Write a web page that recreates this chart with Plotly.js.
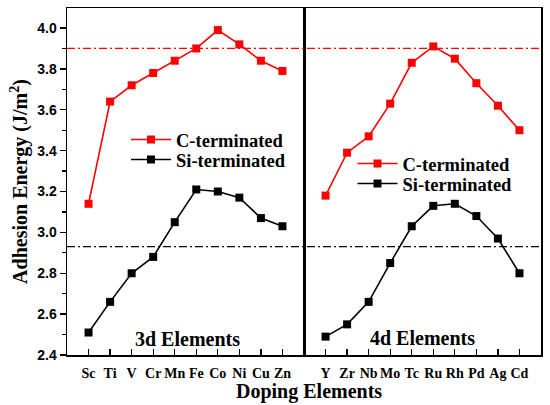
<!DOCTYPE html>
<html><head><meta charset="utf-8">
<script src="https://cdn.plot.ly/plotly-3.0.1.min.js"></script>
<style>html,body{margin:0;padding:0;background:#fff}#chart{width:550px;height:405px}</style>
</head><body><div id="chart"></div>
<script>
const elements3d = ["Sc","Ti","V","Cr","Mn","Fe","Co","Ni","Cu","Zn"];
const elements4d = ["Y","Zr","Nb","Mo","Tc","Ru","Rh","Pd","Ag","Cd"];
const cTerm3d  = [3.14,3.64,3.72,3.78,3.84,3.90,3.99,3.92,3.84,3.79];
const siTerm3d = [2.51,2.66,2.80,2.88,3.05,3.21,3.20,3.17,3.07,3.03];
const cTerm4d  = [3.18,3.39,3.47,3.63,3.83,3.91,3.85,3.73,3.62,3.50];
const siTerm4d = [2.49,2.55,2.66,2.85,3.03,3.13,3.14,3.08,2.97,2.80];
const refC = 3.90;
const refSi = 2.93;
const seriesNames = ["C-terminated","Si-terminated"];
const panelLabels = ["3d Elements","4d Elements"];

const serif = "Liberation Serif, Times New Roman, serif";
const sans = "Liberation Sans, Arial, sans-serif";
const RED = "#ff0000", BLACK = "#000000";

function tr(x, y, name, color, xa, ya, leg) {
  return {x: x, y: y, name: name, type: "scatter", mode: "lines+markers",
    xaxis: xa, yaxis: ya, legend: leg,
    line: {color: color, width: 1.6},
    marker: {symbol: "square", size: 8, color: color}};
}
const data = [
  tr(elements3d, cTerm3d, seriesNames[0], RED, "x", "y", "legend"),
  tr(elements3d, siTerm3d, seriesNames[1], BLACK, "x", "y", "legend2"),
  tr(elements4d, cTerm4d, seriesNames[0], RED, "x2", "y2", "legend3"),
  tr(elements4d, siTerm4d, seriesNames[1], BLACK, "x2", "y2", "legend4")
];

const xCommon = {
  type: "category", range: [-1, 10], showline: true, mirror: true,
  linecolor: BLACK, linewidth: 1.5, ticks: "inside", ticklen: 6, tickwidth: 1.3,
  tickcolor: BLACK, showgrid: false, zeroline: false, ticklabelstandoff: 5,
  tickfont: {family: serif, size: 14, color: BLACK, weight: "bold"}
};
const yRange = [2.4, 4.098];
function leg(x, y) {
  return {
    x: x, y: y, xanchor: "left", yanchor: "middle",
    bgcolor: "rgba(0,0,0,0)", borderwidth: 0,
    font: {family: serif, size: 18.5, color: BLACK, weight: "bold"},
    itemwidth: 40
  };
}

const layout = {
  width: 550, height: 405,
  margin: {l: 67, r: 9, t: 8, b: 50},
  paper_bgcolor: "#fff", plot_bgcolor: "#fff",
  font: {family: serif, color: BLACK, weight: "bold"},
  showlegend: true,
  xaxis: Object.assign({}, xCommon, {domain: [0, 0.5], anchor: "y"}),
  xaxis2: Object.assign({}, xCommon, {domain: [0.5, 1], anchor: "y2"}),
  yaxis: {
    domain: [0, 1], anchor: "x", range: yRange, dtick: 0.2, tick0: 2.4,
    tickformat: ".1f", showline: true, mirror: true, linecolor: BLACK, linewidth: 1.5,
    ticks: "outside", ticklen: 6, tickwidth: 1.3, tickcolor: BLACK,
    minor: {dtick: 0.1, tick0: 2.4, ticks: "outside", ticklen: 3.5, tickwidth: 1.2, tickcolor: BLACK},
    showgrid: false, zeroline: false,
    tickfont: {family: sans, size: 14, color: BLACK, weight: "bold"},
    title: {text: "Adhesion Energy (J/m<sup>2</sup>)", standoff: 4,
      font: {family: serif, size: 20, color: BLACK, weight: "bold"}}
  },
  yaxis2: {
    domain: [0, 1], anchor: "x2", range: yRange, matches: "y",
    showline: true, mirror: true, linecolor: BLACK, linewidth: 1.5,
    ticks: "", showticklabels: false, showgrid: false, zeroline: false
  },
  legend: leg(0.1245, 0.6196),
  legend2: leg(0.1245, 0.562),
  legend3: leg(0.6023, 0.5504),
  legend4: leg(0.6023, 0.4928),
  shapes: [
    {type: "line", xref: "paper", yref: "y", x0: 0, x1: 1, y0: refC, y1: refC,
     line: {color: RED, width: 1.3, dash: "8px,3px,2px,3px"}},
    {type: "line", xref: "paper", yref: "y", x0: 0, x1: 1, y0: refSi, y1: refSi,
     line: {color: BLACK, width: 1.3, dash: "8px,3px,2px,3px"}}
  ],
  annotations: [
    {text: panelLabels[0], xref: "x domain", yref: "y domain", x: 0.51, y: 0.045,
     xanchor: "center", yanchor: "middle", showarrow: false,
     font: {family: serif, size: 20, color: BLACK, weight: "bold"}},
    {text: panelLabels[1], xref: "x2 domain", yref: "y domain", x: 0.50, y: 0.05,
     xanchor: "center", yanchor: "middle", showarrow: false,
     font: {family: serif, size: 20, color: BLACK, weight: "bold"}},
    {text: "Doping Elements", xref: "paper", yref: "paper", x: 0.51, y: -0.1066,
     xanchor: "center", yanchor: "middle", showarrow: false,
     font: {family: serif, size: 20, color: BLACK, weight: "bold"}}
  ]
};

Plotly.newPlot("chart", data, layout, {staticPlot: true, displayModeBar: false});
</script>
</body></html>
